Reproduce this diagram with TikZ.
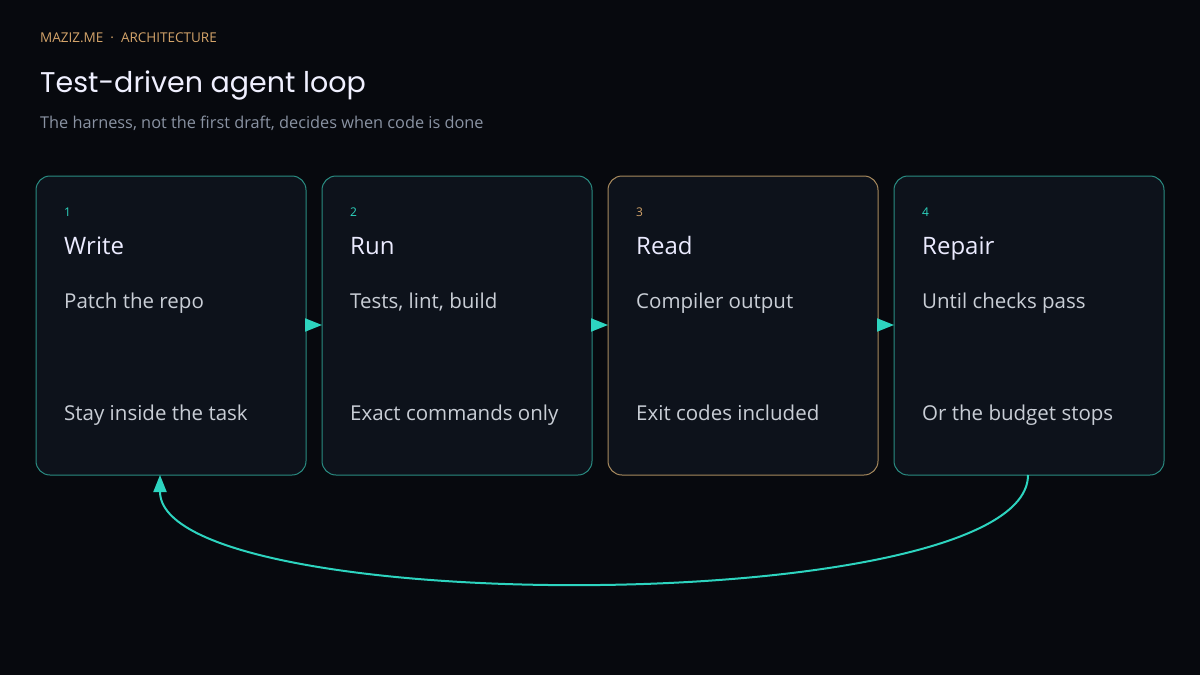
\documentclass[tikz,border=0pt]{standalone}
\usepackage{fontspec}
\setmainfont{Open Sans}
\newfontfamily\titlefont{Poppins}
\usetikzlibrary{arrows.meta}
\definecolor{bg}{HTML}{07090E}
\definecolor{card}{HTML}{0D121B}
\definecolor{teal}{HTML}{2DD4BF}
\definecolor{tealdim}{HTML}{2A8C82}
\definecolor{tan}{HTML}{A88A5E}
\definecolor{gold}{HTML}{D4A46A}
\definecolor{txt}{HTML}{C9CED6}
\definecolor{sub}{HTML}{8A93A3}
\begin{document}
\begin{tikzpicture}[x=1pt,y=-1pt,
  card/.style={fill=card,rounded corners=14pt,line width=1pt},
  num/.style={anchor=base west,inner sep=0pt,font=\fontsize{12}{14}\selectfont},
  ttl/.style={anchor=base west,inner sep=0pt,font=\fontsize{24}{28}\selectfont,text=white!92!blue},
  body/.style={anchor=base west,inner sep=0pt,font=\fontsize{20.5}{24}\selectfont,text=txt},
  arr/.style={-{Triangle[length=17pt,width=13pt]},draw=teal,line width=2pt}]
\fill[bg] (0,0) rectangle (1200,675);
\useasboundingbox (0,0) rectangle (1200,675);
\node[anchor=base west,inner sep=0pt,font=\fontsize{13.5}{15}\selectfont,text=gold] (brand) at (40,42) {MAZIZ.ME \ · \ ARCHITECTURE};
\node[anchor=base west,inner sep=0pt,font=\titlefont\fontsize{28.5}{34}\selectfont,text=white!94!blue] (title) at (40,92) {Test-driven agent loop};
\node[anchor=base west,inner sep=0pt,font=\fontsize{16.3}{18}\selectfont,text=sub] (subt) at (40,128) {The harness, not the first draft, decides when code is done};
\foreach \i/\x/\n/\t/\a/\b/\c/\d in {1/36/1/Write/Patch the repo/Stay inside the task/tealdim/teal,2/322/2/Run/{Tests, lint, build}/Exact commands only/tealdim/teal,3/608/3/Read/Compiler output/Exit codes included/tan/gold,4/894/4/Repair/Until checks pass/Or the budget stops/tealdim/teal}{
  \path[card,draw=\c] (\x,176) rectangle +(270,299);
  \node[num,text=\d] (n\i) at (\x+28,216) {\n};
  \node[ttl] (t\i) at (\x+28,254) {\t};
  \node[body] (p\i) at (\x+28,308) {\a};
  \node[body] (q\i) at (\x+28,420) {\b};
  \coordinate (L\i) at (\x,325);
  \coordinate (R\i) at (\x+270,325);
}
\draw[arr] (R1) -- (L2);
\draw[arr] (R2) -- (L3);
\draw[arr] (R3) -- (L4);
\coordinate (s) at (1028,475);
\coordinate (e) at (160,475);
\draw[arr] (s) .. controls (1028,619) and (160,619) .. (e);
\end{tikzpicture}
\end{document}
